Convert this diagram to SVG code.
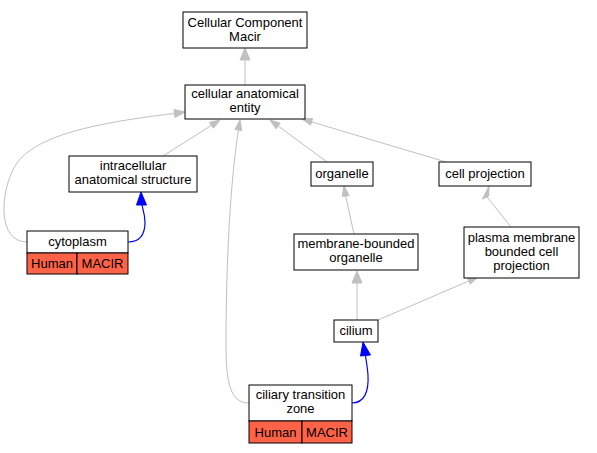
<svg xmlns="http://www.w3.org/2000/svg" width="597" height="453" viewBox="0 0 597 453">
<style>
.box{fill:#fff;stroke:#000;stroke-width:1}
.red{fill:#ff6347;stroke:#000;stroke-width:1}
text{font-family:"Liberation Sans",Arial,sans-serif;font-size:13px;fill:#000;text-anchor:middle}
.e{fill:none;stroke:#c0c0c0;stroke-width:1}
.ea{fill:#c0c0c0;stroke:#c0c0c0;stroke-width:1}
.b{fill:none;stroke:#0000ff;stroke-width:1.2}
.ba{fill:#0000ff;stroke:#0000ff;stroke-width:1}
</style>
<rect width="597" height="453" fill="#fff"/>
<g id="edges">
<path class="e" d="M245,85 L245,60"/>
<polygon class="ea" points="245,48 250,60 240,60"/>
<path class="e" d="M163,156 L211.5,125.3"/>
<polygon class="ea" points="220,120 213.4,128.3 209.6,122.3"/>
<path class="e" d="M27,242 C-3,242 0,192 15,166 C32,138 85,124 174,113.5"/>
<polygon class="ea" points="185,112 175,117.5 174,109.5"/>
<path class="b" d="M128,242 C140,242 145,234 145,222 C145,215 143,210 142,205"/>
<polygon class="ba" points="141,192 146.5,205 136.5,205"/>
<path class="e" d="M249,403 C230,403 226,382 226,345 C226,265 230,185 238.4,130"/>
<polygon class="ea" points="240,120 241.8,130.6 234.9,129.4"/>
<path class="e" d="M327,162 L278,125.9"/>
<polygon class="ea" points="270,120 280.1,123.1 275.9,128.8"/>
<path class="e" d="M446,162 L311.6,121.9"/>
<polygon class="ea" points="302,119 312.6,118.5 310.6,125.2"/>
<path class="e" d="M354,234 L345.7,196"/>
<polygon class="ea" points="344,186 349.2,195.6 342.2,196.4"/>
<path class="e" d="M511,227 L485.6,195"/>
<polygon class="ea" points="489,186 488.8,196 482.5,199"/>
<path class="e" d="M357,320 L357,283"/>
<polygon class="ea" points="357,271 362,283 352,283"/>
<path class="e" d="M378,320 L468.8,281"/>
<polygon class="ea" points="478,277 470.2,284.2 467.4,277.8"/>
<path class="b" d="M352,403 C364,403 369,392 368,375 C367.5,368 366.5,362 365.5,356"/>
<polygon class="ba" points="363,342 370.5,355 360.5,356"/>
</g>
<g id="node-cellular-component-macir">
<rect class="box" x="183" y="12" width="124" height="36"/>
<text x="245" y="27">Cellular Component</text>
<text x="245" y="41">Macir</text>
</g>
<g id="node-cellular-anatomical-entity">
<rect class="box" x="185" y="85" width="120" height="34"/>
<text x="245" y="98">cellular anatomical</text>
<text x="245" y="112">entity</text>
</g>
<g id="node-intracellular-anatomical-structure">
<rect class="box" x="69" y="156" width="128" height="36"/>
<text x="133" y="170">intracellular</text>
<text x="133" y="184">anatomical structure</text>
</g>
<g id="node-cytoplasm">
<rect class="box" x="27" y="231" width="101" height="22"/>
<text x="77.5" y="246">cytoplasm</text>
<rect class="red" x="27" y="253" width="50" height="21"/>
<rect class="red" x="77" y="253" width="51" height="21"/>
<text x="52" y="268">Human</text>
<text x="102.5" y="268">MACIR</text>
</g>
<g id="node-organelle">
<rect class="box" x="311" y="162" width="62" height="24"/>
<text x="342" y="178">organelle</text>
</g>
<g id="node-cell-projection">
<rect class="box" x="439" y="162" width="92" height="24"/>
<text x="485" y="178">cell projection</text>
</g>
<g id="node-membrane-bounded-organelle">
<rect class="box" x="294" y="234" width="124" height="36"/>
<text x="356" y="248">membrane-bounded</text>
<text x="356" y="262">organelle</text>
</g>
<g id="node-plasma-membrane-bounded-cell-projection">
<rect class="box" x="464" y="227" width="115" height="51"/>
<text x="521.5" y="242">plasma membrane</text>
<text x="521.5" y="256">bounded cell</text>
<text x="521.5" y="270">projection</text>
</g>
<g id="node-cilium">
<rect class="box" x="334" y="320" width="44" height="22"/>
<text x="356" y="335">cilium</text>
</g>
<g id="node-ciliary-transition-zone">
<rect class="box" x="249" y="385" width="103" height="36"/>
<text x="300.5" y="399">ciliary transition</text>
<text x="300.5" y="413">zone</text>
<rect class="red" x="249" y="421" width="53" height="22"/>
<rect class="red" x="302" y="421" width="50" height="22"/>
<text x="275.5" y="437">Human</text>
<text x="327" y="437">MACIR</text>
</g>
</svg>
